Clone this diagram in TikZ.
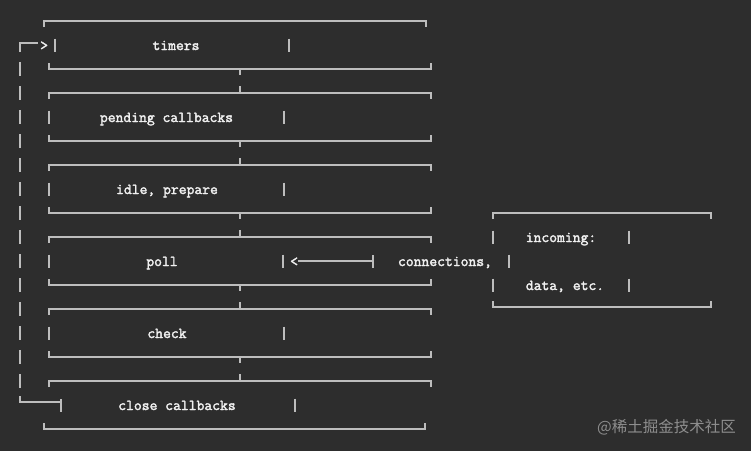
\documentclass[tikz,border=0pt]{standalone}
\usepackage{fontspec}
\newfontfamily\cjk{Noto Sans CJK SC}
\newfontfamily\lmbold{Latin Modern Mono}[FakeBold=2.2]
\definecolor{bg}{HTML}{2D2D2D}
\definecolor{lncol}{HTML}{BDBDBD}
\definecolor{txcol}{HTML}{F0F0F0}
\definecolor{wmcol}{HTML}{8E8E8E}
\newcommand\vbar[2]{\draw[ln] (#1,#2-6.5) -- (#1,#2+6.5);}
\begin{document}
\begin{tikzpicture}[x=1pt,y=-1pt,
  ln/.style={draw=lncol, line width=1.4pt},
  lbl/.style={text=txcol, font=\fontsize{15.2}{18}\selectfont\lmbold, inner sep=0pt, anchor=base},
  ]
\fill[bg] (0,0) rectangle (751,451);
\useasboundingbox (0,0) rectangle (751,451);
% main boxes: top lines
\draw[ln] (44,27) -- (44,21) -- (426,21) -- (426,27);
\foreach \t in {93,165,237,309,381} {
  \draw[ln] (49,\t+6) -- (49,\t) -- (431,\t) -- (431,\t+6);
  \draw[ln] (240,\t) -- (240,\t-7);
}
\foreach \b in {69,141,213,285,357} {
  \draw[ln] (49,\b-6) -- (49,\b) -- (431,\b) -- (431,\b-6);
  \draw[ln] (240,\b) -- (240,\b+6);
}
\draw[ln] (44,423) -- (44,429) -- (425,429) -- (425,423);
% text row bars
\vbar{55}{45}\vbar{289}{45}
\vbar{49}{117}\vbar{284}{117}
\vbar{49}{189}\vbar{284}{189}
\vbar{49}{261}\vbar{283}{261}
\vbar{49}{333}\vbar{284}{333}
\vbar{295}{405}
% loop on the left
\draw[ln] (20,52) -- (20,43) -- (38,43);
\node[lbl, anchor=base west] (gt) at (40,50) {>};
\foreach \y in {69,93,...,381} { \draw[ln] (20,\y-7) -- (20,\y+7); }
\draw[ln] (20,396) -- (20,402) -- (61,402);
\draw[ln] (61,399) -- (61,412);
% labels
\node[lbl] (timers) at (176,50) {timers};
\node[lbl] (pending) at (166.5,122) {pending callbacks};
\node[lbl] (idle) at (167,194) {idle, prepare};
\node[lbl] (poll) at (162,266) {poll};
\node[lbl] (check) at (167,338) {check};
\node[lbl] (close) at (177,410) {close callbacks};
% poll arrow
\node[lbl, anchor=base west] (lt) at (290,266) {<};
\draw[ln] (298,261) -- (373,261);
\draw[ln] (373,255) -- (373,268);
\node[lbl] (conn) at (445,266) {connections,};
\vbar{509}{261}
% incoming box
\draw[ln] (493,219) -- (493,213) -- (711,213) -- (711,219);
\draw[ln] (493,301) -- (493,307) -- (711,307) -- (711,301);
\node[lbl] (inc) at (561,242) {incoming:};
\vbar{493}{237}\vbar{629}{237}
\node[lbl] (data) at (565,290) {data, etc.};
\vbar{493}{285}\vbar{629}{285}
% watermark
\node[anchor=east, inner sep=0pt, text=wmcol, font=\cjk\fontsize{15.5}{18}\selectfont] (wm) at (736,427) {@稀土掘金技术社区};
\end{tikzpicture}
\end{document}
